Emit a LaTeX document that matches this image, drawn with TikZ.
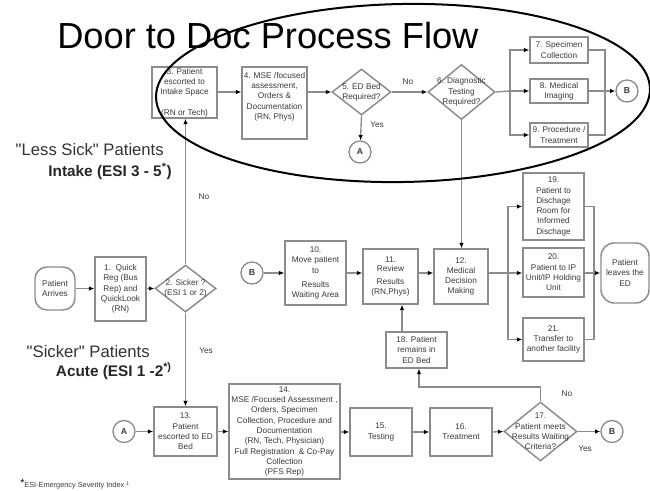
\documentclass[tikz,border=0pt]{standalone}
\usepackage{fontspec}
\setmainfont{Liberation Sans}
\usetikzlibrary{shapes.geometric,arrows.meta}
\definecolor{ln}{HTML}{8C8C8C}
\definecolor{tx}{HTML}{3A3A3A}
\begin{document}
\begin{tikzpicture}[x=0.75pt,y=-0.75pt,
 sz/.style 2 args={minimum width=#1*0.75pt, minimum height=#2*0.75pt},
 small/.style={font=\fontsize{6.2}{7.7}\selectfont},
 box/.style={draw=ln, line width=1.1pt, inner sep=0pt, align=center, small, text=tx},
 dia/.style={diamond, draw=ln, line width=1.1pt, inner sep=0pt},
 dtxt/.style={align=center, small, text=tx, inner sep=0pt},
 circ/.style={circle, draw=ln, line width=1pt, minimum size=22*0.75pt, inner sep=0pt, font=\fontsize{6.5}{7}\selectfont\bfseries, text=tx},
 con/.style={draw=ln, line width=1pt},
 arr/.style={con, -{Latex[length=4pt,width=3.4pt,black]}},
 lab/.style={font=\fontsize{6.2}{7}\selectfont, text=tx, inner sep=0pt},
 big/.style={font=\fontsize{12.5}{14}\selectfont, text=black!80, inner sep=0pt},
 bigb/.style={font=\fontsize{11.5}{14}\selectfont\bfseries, text=black!85, inner sep=0pt}
]
\fill[white] (0,0) rectangle (650,491);
\useasboundingbox (0,0) rectangle (650,491);

% title and side labels
\node[anchor=base west, font=\fontsize{27.2}{30}\selectfont, inner sep=0pt] (title) at (57,49) {Door to Doc Process Flow};
\node[big, anchor=east] (less) at (164,150) {\textquotedbl Less Sick\textquotedbl\ Patients};
\node[bigb, anchor=east] (intake) at (172,171) {Intake (ESI 3 - 5\textsuperscript{*})};
\node[big, anchor=east] (sicker) at (150,352) {\textquotedbl Sicker\textquotedbl\ Patients};
\node[bigb, anchor=east] (acute) at (172,371) {Acute (ESI 1 -2\textsuperscript{*)}};
\node[anchor=base west, font=\fontsize{5.5}{6}\selectfont, text=tx, inner sep=0pt] (fn) at (20,488) {\textcolor{black}{\fontsize{8}{8}\selectfont\raisebox{1pt}{*}}ESI-Emergency Severity Index \textsuperscript{1}};

% top row
\node[box, sz={65}{51}] (b3) at (184.5,92.5) {3. Patient\\escorted to\\Intake Space\\[7.7pt](RN or Tech)};
\node[box, sz={65}{72}] (b4) at (274.5,103) {};
\node[dtxt, anchor=north] (b4t) at (274.5,72) {4. MSE /focused\\assessment,\\Orders \&\\Documentation\\(RN, Phys)};
\node[dia, sz={59}{46}] (d5) at (361.5,92) {};
\node[dtxt] (d5t) at (d5) {5. ED Bed\\Required?};
\node[dia, sz={67}{55}] (d6) at (461.5,92) {};
\node[dtxt] (d6t) at (d6) {6. Diagnostic\\Testing\\Required?};
\node[box, sz={58}{26}] (b7) at (559,50) {7. Specimen\\Collection};
\node[box, sz={58}{24}] (b8) at (559,91) {8. Medical\\Imaging};
\node[box, sz={58}{24}] (b9) at (559,135) {9. Procedure /\\Treatment};
\node[circ] (Bt) at (627,91) {B};
\node[circ] (At) at (360,152) {A};
\coordinate (j1) at (510,91);
\coordinate (j2) at (605,91);

% left
\node[box, rounded corners=9pt, sz={40}{43}] (pa) at (55,288.5) {Patient\\Arrives};
\node[box, sz={51}{64}] (b1) at (120.5,289) {1.\ \ Quick\\Reg (Bus\\Rep) and\\QuickLook\\(RN)};
\node[dia, sz={61}{47}] (d2) at (185.5,288.5) {};
\node[dtxt] (d2t) at (d2) {2. Sicker ?\\(ESI 1 or 2)};

% middle row
\node[circ] (Bm) at (252,273) {B};
\node[box, sz={61}{64}] (b10) at (315.5,273) {10.\\Move patient\\to\\[3pt]Results\\Waiting Area};
\node[box, sz={55}{55}] (b11) at (390.5,276.5) {11.\\[-1pt]Review\\[2pt]Results\\(RN,Phys)};
\node[box, sz={54}{55}] (b12) at (461,276.5) {12.\\Medical\\Decision\\Making};
\node[box, sz={61}{67}] (b19) at (553.5,206.5) {19.\\Patient to\\Dischage\\Room for\\Informed\\Dischage};
\node[box, sz={61}{49}] (b20) at (553.5,272.5) {20.\\Patient to IP\\Unit/IP Holding\\Unit};
\node[box, sz={61}{43}] (b21) at (553.5,339.5) {21.\\Transfer to\\another facility};
\node[box, rounded corners=10pt, sz={48}{60}] (lv) at (625,273) {Patient\\leaves the\\ED};
\node[box, sz={61}{36}] (b18) at (416.5,350) {18. Patient\\remains in\\ED Bed};
\coordinate (j3) at (508,273);
\coordinate (j4) at (594,273);
\coordinate (c18) at (402,350);
\coordinate (c17) at (419,387);

% bottom row
\node[circ] (Al) at (124,431.5) {A};
\node[box, sz={63}{49}] (b13) at (185.5,431.5) {13.\\Patient\\escorted to ED\\Bed};
\node[box, sz={111}{95}] (b14) at (284.5,431.5) {14.\\MSE /Focused Assessment ,\\Orders, Specimen\\Collection, Procedure and\\Documentation\\(RN, Tech, Physician)\\Full Registration\ \ \& Co-Pay\\Collection\\(PFS Rep)};
\node[box, sz={62}{48}] (b15) at (381,432) {15.\\Testing};
\node[box, sz={62}{48}] (b16) at (461,432) {16.\\Treatment};
\node[dia, sz={73}{59}] (d17) at (540.5,431.5) {};
\node[dtxt] (d17t) at (d17) {17.\\Patient meets\\Results Waiting\\Criteria?};
\node[circ] (Bl) at (612,431.5) {B};

% edge labels
\node[lab] (l1) at (408,82) {No};
\node[lab] (l2) at (377,125) {Yes};
\node[lab] (l3) at (204,197) {No};
\node[lab] (l4) at (206,351) {Yes};
\node[lab] (l5) at (567,394) {No};
\node[lab] (l6) at (585,449) {Yes};

% connectors top
\draw[arr] (b3.east |- d5) -- (b4.west |- d5);
\draw[arr] (b4.east |- d5) -- (d5.west);
\draw[arr] (d5.east) -- (d6.west);
\draw[arr] (d5.south) -- (At);
\draw[con] (d6.east) -- (j1);
\draw[arr] (j1) |- (b7.west);
\draw[arr] (j1) -- (b8.west);
\draw[arr] (j1) |- (b9.west);
\draw[con] (b7.east) -| (j2);
\draw[con] (b9.east) -| (j2);
\draw[con] (b8.east) -- (j2);
\draw[arr] (j2) -- (Bt);
\draw[arr] (d6.south) -- (d6.south |- b12.north);

% left
\draw[arr] (pa) -- (pa -| b1.west);
\draw[arr] (b1.east |- d2) -- (d2.west);
\draw[arr] (d2.north) -- (d2.north |- b3.south);
\draw[arr] (d2.south) -- (d2.south |- b13.north);

% middle
\draw[arr] (Bm) -- (b10);
\draw[arr] (b10.east) -- (b10.east -| b11.west);
\draw[arr] (b10 -| b11.east) -- (b10 -| b12.west);
\draw[con] (b12.east |- j3) -- (j3);
\draw[arr] (j3) |- (b19.west);
\draw[arr] (j3) -- (b20.west |- j3);
\draw[arr] (j3) |- (b21.west);
\draw[con] (b19.east) -| (j4);
\draw[con] (b21.east) -| (j4);
\draw[con] (b20.east |- j4) -- (j4);
\draw[arr] (j4) -- (lv.west |- j4);
\draw[arr] (c18 |- b18.north) -- (c18 |- b11.south);
\draw[arr] (d17.north) |- (c17) -- (c17 |- b18.south);

% bottom
\draw[arr] (Al) -- (b13);
\draw[arr] (b13.east) -- (b13.east -| b14.west);
\draw[arr] (b14.east |- b15) -- (b15.west);
\draw[arr] (b15.east) -- (b16.west);
\draw[arr] (b16.east) -- (d17.west);
\draw[arr] (d17.east) -- (Bl);

% ellipse
\draw[line width=1.5pt, rotate around={1:(403,93)}] (403,93) ellipse [x radius=185.25pt, y radius=66.75pt];
\end{tikzpicture}
\end{document}
